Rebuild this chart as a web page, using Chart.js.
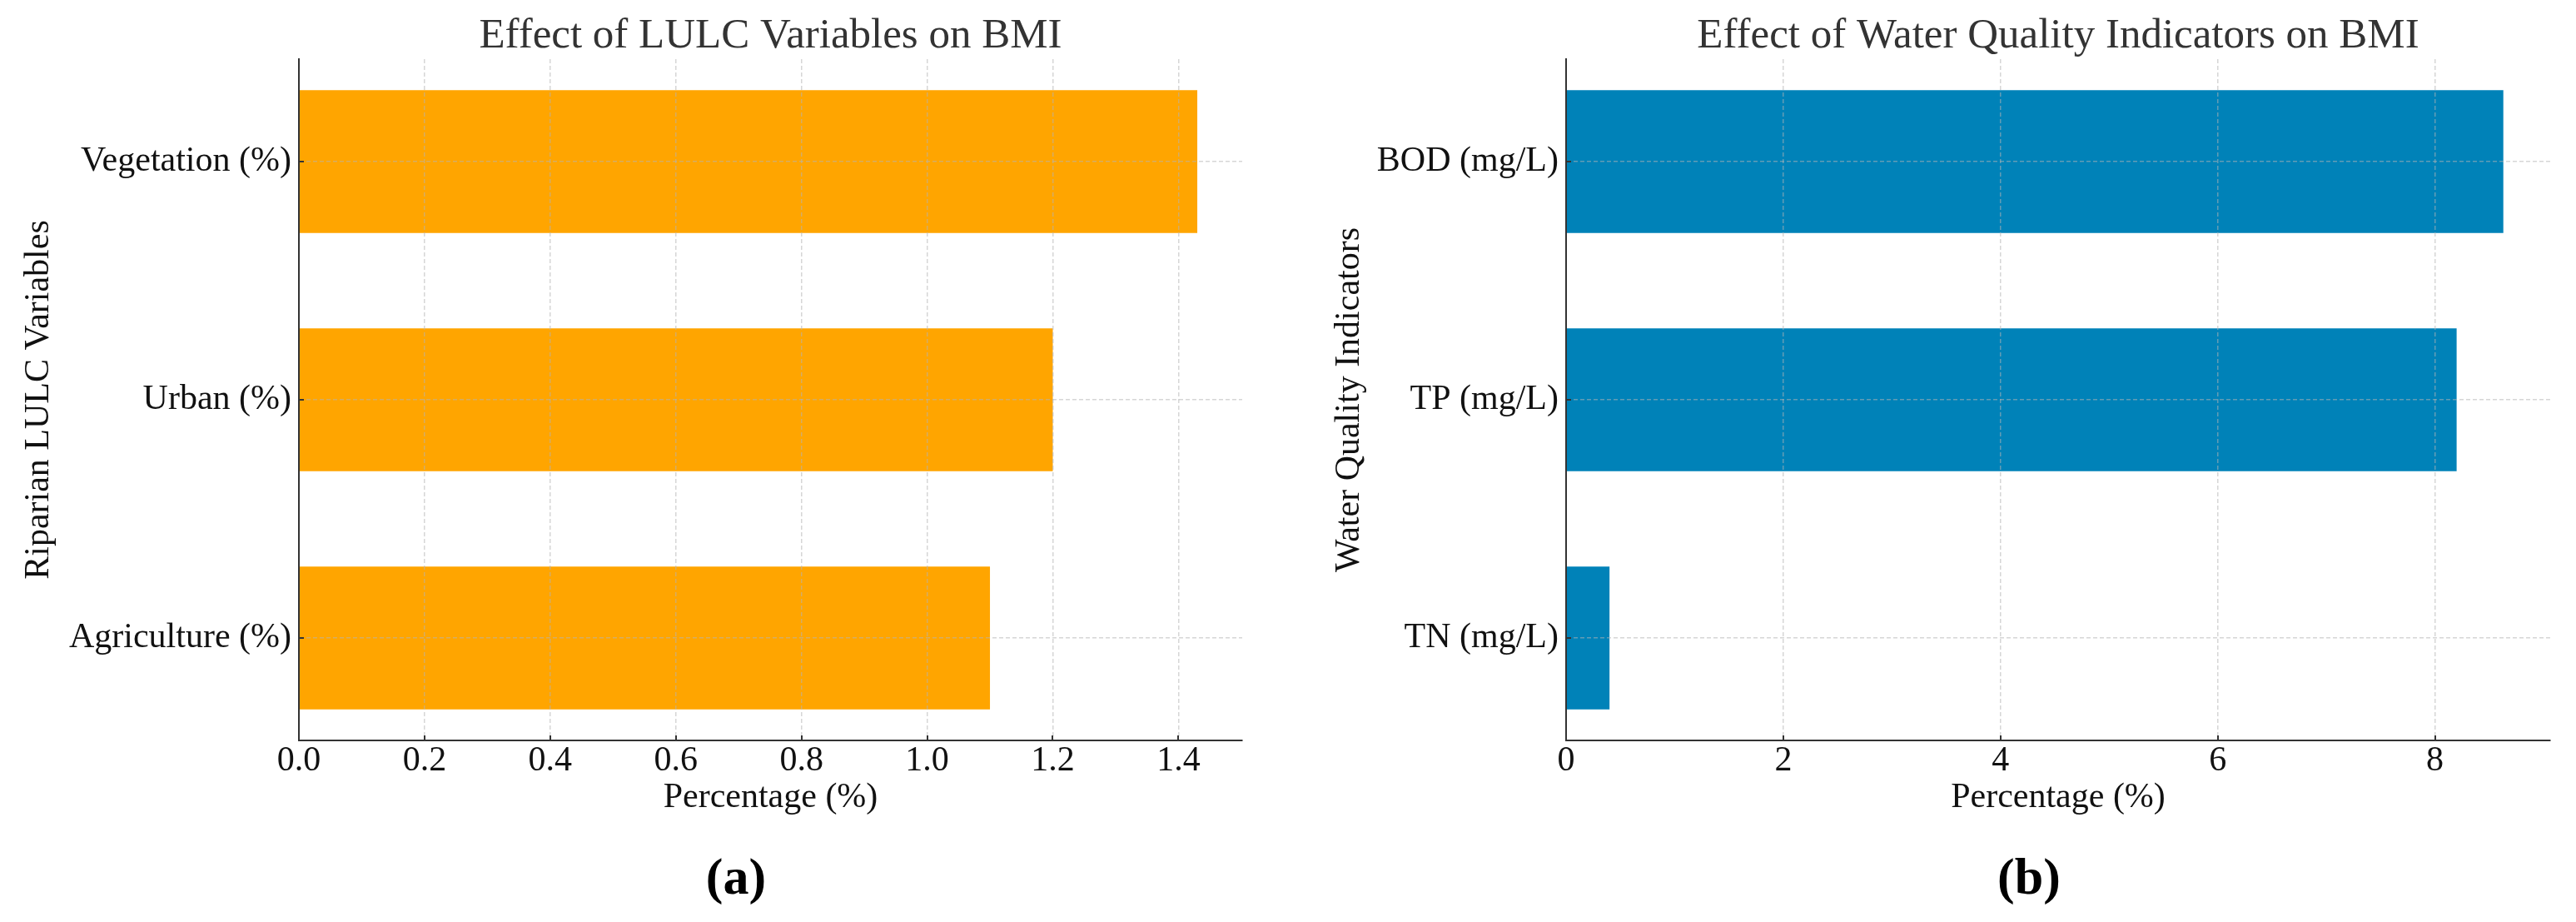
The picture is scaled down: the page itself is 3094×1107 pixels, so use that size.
<!DOCTYPE html>
<html>
<head>
<meta charset="utf-8">
<script src="https://cdn.jsdelivr.net/npm/chart.js@4/dist/chart.umd.min.js"></script>
<style>
  html, body { margin: 0; padding: 0; background: #ffffff; }
  body { width: 3094px; height: 1107px; position: relative; overflow: hidden; }
  canvas { position: absolute; top: 0; }
  #cA { left: 0; }
  #cB { left: 1547px; }
  .panel-label { position: absolute; font-family: "Liberation Serif", "Times New Roman", serif; font-weight: bold; font-size: 62px; line-height: 62px; color: #000; transform: translateX(-50%); white-space: nowrap; }
</style>
</head>
<body>
<canvas id="cA" width="1547" height="1107"></canvas>
<canvas id="cB" width="1547" height="1107"></canvas>
<div class="panel-label" style="left:884px; top:1021px;">(a)</div>
<div class="panel-label" style="left:2437px; top:1021px;">(b)</div>
<script>
// ---- Data (bottom-to-top order, as in the reference) ----
const lulcCategories = ['Agriculture (%)', 'Urban (%)', 'Vegetation (%)'];
const lulcValues = [1.10, 1.20, 1.43];
const lulcTicks = [0.0, 0.2, 0.4, 0.6, 0.8, 1.0, 1.2, 1.4];

const wqCategories = ['TN (mg/L)', 'TP (mg/L)', 'BOD (mg/L)'];
const wqValues = [0.40, 8.20, 8.63];
const wqTicks = [0, 2, 4, 6, 8];

const titleA = 'Effect of LULC Variables on BMI';
const titleB = 'Effect of Water Quality Indicators on BMI';
const yTitleA = 'Riparian LULC Variables';
const yTitleB = 'Water Quality Indicators';
const xTitle = 'Percentage (%)';

const FONT = '"Liberation Serif", "Times New Roman", serif';

// inward tick marks like the reference
const inwardTicks = {
  id: 'inwardTicks',
  afterDraw(chart) {
    const ctx = chart.ctx, area = chart.chartArea;
    ctx.save();
    ctx.strokeStyle = '#333333';
    ctx.lineWidth = 2;
    const xs = chart.scales.x, ys = chart.scales.y;
    xs.ticks.forEach(t => {
      const px = Math.round(xs.getPixelForValue(t.value));
      ctx.beginPath(); ctx.moveTo(px, area.bottom); ctx.lineTo(px, area.bottom - 6); ctx.stroke();
    });
    ys.ticks.forEach(t => {
      const py = Math.round(ys.getPixelForValue(t.value));
      ctx.beginPath(); ctx.moveTo(area.left, py); ctx.lineTo(area.left + 6, py); ctx.stroke();
    });
    ctx.restore();
  }
};

function makeChart(id, cfg) {
  const points = cfg.values.map((v, i) => ({ x: v, y: i }));
  const xMax = Math.max(...cfg.values) * 1.05;
  const n = cfg.categories.length;
  const gridStyle = () => ({ color: 'rgba(180,180,180,0.55)', lineWidth: 1.5, drawTicks: false, offset: false, z: 1 });
  const borderStyle = () => ({ color: '#333333', width: 2, dash: [5, 3], z: 2 });
  return new Chart(document.getElementById(id), {
    type: 'bar',
    data: {
      datasets: [{
        data: points,
        backgroundColor: cfg.color,
        borderWidth: 0,
        categoryPercentage: 1.0,
        barPercentage: 0.6
      }]
    },
    plugins: [inwardTicks],
    options: {
      indexAxis: 'y',
      responsive: false,
      animation: false,
      devicePixelRatio: 1,
      layout: { padding: { left: 0, right: cfg.padRight, top: 0, bottom: 0 } },
      plugins: {
        legend: { display: false },
        tooltip: { enabled: false },
        title: {
          display: true,
          text: cfg.title,
          fullSize: false,
          color: '#333333',
          font: { family: FONT, size: 51, lineHeight: 1.0, weight: 'normal' },
          padding: { top: 18.2, bottom: 1.8 }
        }
      },
      scales: {
        x: {
          type: 'linear',
          min: 0,
          max: xMax,
          offset: false,
          afterBuildTicks: s => { s.ticks = cfg.ticks.map(v => ({ value: v })); },
          afterFit: s => { s.height = 218; },
          grid: gridStyle(),
          border: borderStyle(),
          ticks: {
            color: '#111111',
            padding: 0,
            font: { family: FONT, size: 42 },
            maxRotation: 0,
            autoSkip: false,
            callback: v => cfg.tickFmt(v)
          },
          title: {
            display: true,
            text: xTitle,
            color: '#111111',
            font: { family: FONT, size: 42 },
            padding: { top: 0, bottom: 123.4 }
          }
        },
        y: {
          type: 'linear',
          min: -0.43,
          max: (n - 1) + 0.43,
          offset: false,
          bounds: 'data',
          afterBuildTicks: s => { s.ticks = cfg.categories.map((c, i) => ({ value: i })); },
          afterFit: s => { s.width = cfg.yWidth; },
          grid: gridStyle(),
          border: borderStyle(),
          ticks: {
            color: '#111111',
            padding: 9,
            autoSkip: false,
            font: { family: FONT, size: 42 },
            callback: v => cfg.categories[v]
          },
          title: {
            display: true,
            text: cfg.yTitle,
            color: '#111111',
            font: { family: FONT, size: 42 },
            padding: { top: cfg.yTitlePad, bottom: 0 }
          }
        }
      }
    }
  });
}

makeChart('cA', {
  categories: lulcCategories,
  values: lulcValues,
  ticks: lulcTicks,
  tickFmt: v => v.toFixed(1),
  color: '#FFA500',
  title: titleA,
  yTitle: yTitleA,
  yWidth: 359,
  yTitlePad: 21.3,
  padRight: 55
});

makeChart('cB', {
  categories: wqCategories,
  values: wqValues,
  ticks: wqTicks,
  tickFmt: v => String(v),
  color: '#0082B8',
  title: titleB,
  yTitle: yTitleB,
  yWidth: 334,
  yTitlePad: 48.8,
  padRight: 31
});
</script>
</body>
</html>
